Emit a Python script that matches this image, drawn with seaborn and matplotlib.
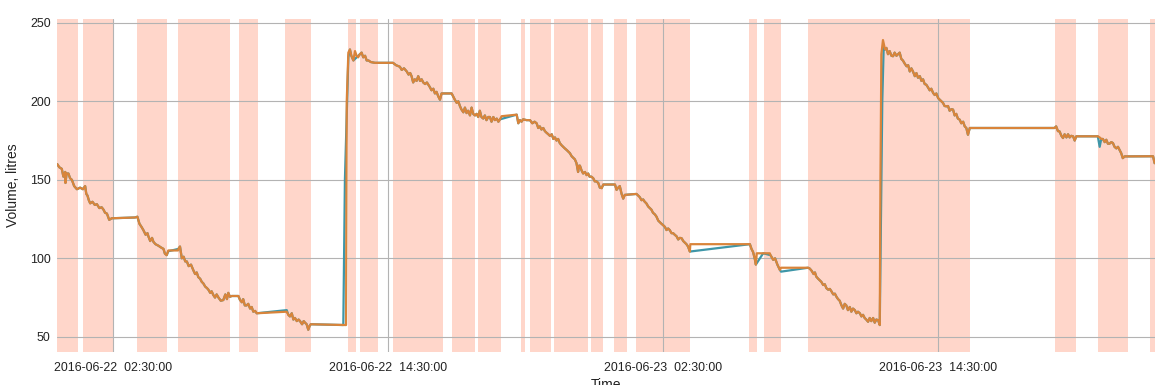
import pandas as pd
import seaborn as sns
import matplotlib.pyplot as plt
import matplotlib.dates as mdates

# hours since 2016-06-22 00:00 and tank volume (litres)
hours = [0.06, 0.15, 0.26, 0.33, 0.41, 0.42, 0.47, 0.55, 0.62, 0.70, 0.80, 0.92, 1.06, 1.18, 1.28, 1.33, 1.38, 1.44, 1.50, 1.60, 1.70, 1.79, 1.90, 2.00, 2.08, 2.15, 2.23, 2.33, 2.44,
         3.46, 3.56, 3.65, 3.74, 3.82, 3.92, 4.00, 4.04, 4.12, 4.20, 4.26, 4.35, 4.48, 4.58, 4.70, 4.76, 4.84,
         5.35, 5.42, 5.50, 5.58, 5.65, 5.72, 5.80, 5.90, 6.00, 6.08, 6.15, 6.22, 6.30, 6.37, 6.44, 6.52, 6.60, 6.66, 6.74, 6.80, 6.88, 6.95, 7.02, 7.10, 7.20, 7.31, 7.40, 7.47, 7.53, 7.60, 7.68,
         7.97, 8.04, 8.12, 8.18, 8.25, 8.33, 8.40, 8.48, 8.55, 8.62, 8.70, 8.77,
         10.15, 10.22, 10.30, 10.37, 10.44, 10.52, 10.60, 10.66, 10.75, 10.82, 10.88, 10.95, 11.02, 11.08, 11.13,
         12.84, 12.90, 12.99, 13.35, 13.42, 13.50, 13.57, 13.65, 13.75, 13.93, 14.72, 14.85,
         15.02, 15.10, 15.20, 15.32, 15.40, 15.47, 15.53, 15.60, 15.67, 15.75, 15.82, 15.90, 15.97, 16.04, 16.12, 16.20, 16.33, 16.40, 16.48, 16.55, 16.62, 16.70, 16.77, 16.84,
         17.28, 17.35, 17.42, 17.50, 17.57, 17.64, 17.70, 17.79, 17.86, 17.93, 18.00, 18.08, 18.15, 18.22, 18.30, 18.37, 18.44, 18.51, 18.58, 18.66, 18.73, 18.80, 18.88, 18.95, 19.02, 19.10, 19.17, 19.25, 19.32, 19.39,
         20.12, 20.19, 20.26, 20.33, 20.40, 20.55, 20.70, 20.80, 20.90, 20.99, 21.06, 21.13, 21.20, 21.28, 21.35, 21.42, 21.50, 21.57, 21.65, 21.72, 21.79, 21.86, 21.93,
         22.00, 22.08, 22.15, 22.22, 22.30, 22.37, 22.44, 22.52, 22.59, 22.66, 22.73, 22.80, 22.84, 22.88, 22.95, 23.02, 23.10, 23.17, 23.24, 23.30, 23.38, 23.46, 23.53, 23.60, 23.68, 23.75, 23.83, 23.90,
         24.41, 24.48, 24.55, 24.62, 24.70, 24.77, 24.84, 25.35, 25.42, 25.49, 25.57, 25.64, 25.71, 25.78, 25.86, 25.93, 26.00, 26.07, 26.15, 26.22, 26.30, 26.37, 26.44, 26.52, 26.59, 26.66, 26.73, 26.80, 26.88, 26.95, 27.02, 27.10, 27.17, 27.24, 27.32, 27.39, 27.46, 27.53, 27.60, 27.68,
         30.30, 30.37, 30.44, 30.51, 30.56, 31.20, 31.32, 31.40, 31.50, 31.61,
         32.84, 32.91, 33.00, 33.08, 33.14, 33.20, 33.28, 33.35, 33.42, 33.50, 33.57, 33.64, 33.72, 33.79, 33.86, 33.94, 34.01, 34.08, 34.15, 34.22, 34.30, 34.37, 34.44, 34.51, 34.58, 34.66, 34.73, 34.80, 34.88, 34.95, 35.02, 35.10, 35.17, 35.24, 35.31, 35.38, 35.46, 35.53, 35.60, 35.68, 35.75, 35.82, 35.90, 35.97,
         36.20, 36.26, 36.33, 36.40, 36.48, 36.55, 36.62, 36.70, 36.77, 36.84, 36.91, 36.98, 37.06, 37.14, 37.21, 37.28, 37.35, 37.42, 37.50, 37.57, 37.64, 37.72, 37.79, 37.86, 37.93, 38.00, 38.07, 38.15, 38.22, 38.30, 38.37, 38.44, 38.52, 38.59, 38.66, 38.73, 38.80, 38.88, 38.95, 39.02, 39.10, 39.17, 39.24, 39.31, 39.38, 39.46, 39.53, 39.61, 39.68, 39.75, 39.82, 39.90,
         43.60, 43.67, 43.75, 43.82, 43.90, 43.97, 44.04, 44.12, 44.19, 44.26, 44.33, 44.41, 44.48, 44.55, 45.49,
         45.64, 45.71, 45.79, 45.86, 45.93, 46.00, 46.08, 46.15, 46.22, 46.30, 46.37, 46.44, 46.51, 46.58, 46.66, 47.90, 47.97]
volume = [160, 158, 157, 152, 155, 148, 154, 154, 151, 150, 146, 144, 145, 144, 146, 141, 140, 137, 135, 136, 134, 134.5, 132, 132.5, 131, 129, 128.5, 124.5, 125.5,
          126, 126.5, 122, 120, 118, 115, 116, 114, 111, 113, 110.5, 109, 108, 107, 106, 103, 102,
          106, 107.5, 100, 101, 98, 98, 95, 96, 92.5, 90, 91, 88, 87, 85, 84, 82, 81, 80, 78, 79, 76.5, 75, 77, 75, 73, 73.4, 77, 74, 78, 75.5, 76,
          76, 73.5, 72, 74, 70, 70, 71, 68, 69, 66, 66.5, 65,
          64, 63, 65, 61, 62, 60, 61, 60, 58, 60, 59, 58, 54.5, 57, 58,
          233, 229, 226, 231, 228, 229, 226, 226, 225, 224.5, 224.5, 223,
          222, 220, 221, 219, 217, 218, 216, 212, 214, 213, 216, 213, 214, 212, 211, 212, 209, 207, 208, 205, 206, 203, 201, 205,
          205, 203, 201, 199, 200, 197, 195, 193, 196, 192.5, 194, 191, 196, 192, 191, 192, 190, 194, 190, 189, 191, 188, 190, 190, 187, 190, 188, 189, 187, 188.5,
          191.5, 186, 188, 187, 188.5, 188, 188, 186, 187, 186, 183, 184, 182, 183, 181, 180, 179, 178, 179, 176, 177, 175, 176,
          173.4, 172, 171, 170, 169, 168, 167, 165, 164, 163, 160.6, 155, 159, 159, 156, 154, 155, 153, 154, 152, 152, 151, 149, 149, 148, 145, 144.7, 147,
          147, 143.6, 145, 146, 141, 138, 140.4, 141, 140, 139, 137, 137.5, 136, 135, 133, 132, 131, 129, 128, 126.6, 124, 123, 122, 121, 120, 118, 119, 118, 116, 116, 115, 114, 112, 113, 112.8, 111, 110, 109, 107.5, 104.3,
          109, 106, 104, 100, 96, 102, 99, 100, 96, 92.6,
          94, 93.5, 92, 90, 91, 88.3, 87, 86, 85, 83, 83.5, 81, 80, 80.5, 79, 77, 77.5, 75.5, 74, 73, 70, 68, 71, 70, 67, 69, 66, 68, 67, 65, 66, 65, 63, 64, 62, 61, 59.6, 62, 60, 62, 59, 61, 60.6, 57.5,
          233, 234, 230, 232, 229, 228.7, 231, 229, 230, 231, 227, 226, 224, 222.3, 223, 219, 221, 219, 216, 218, 215, 216, 213, 214, 211, 210.6, 209, 207, 208, 205.3, 204, 205, 202, 201, 200, 199, 197, 196.8, 197, 194, 195, 194.7, 191, 192, 189, 188.3, 186, 187, 184, 183, 178.7, 183,
          183, 184, 181, 180.8, 178, 176.6, 179, 177, 179, 177, 178, 177.7, 175, 177.7, 177.7,
          176, 176, 174, 175.5, 173, 173, 174, 173.4, 171, 170, 171, 169, 167, 163.8, 164.9, 165, 160.6]

# points inside the gaps, different for the two filling methods
teal_hours = [4.91, 10.08, 12.55, 12.62, 12.77, 30.88, 31.66, 36.08, 36.14, 45.57]
teal_volume = [104.5, 67, 57.5, 150, 228, 103.2, 91.5, 200, 234, 171]
orange_hours = [4.91, 5.33, 10.08, 12.67, 12.70, 12.77, 13.06, 13.13, 13.20, 13.27, 19.46, 27.70, 30.60, 31.17, 31.66, 36.00, 36.04, 36.11, 45.57]
orange_volume = [105, 105, 66, 57.5, 200, 231, 232, 229, 228, 230, 190.5, 109, 103.2, 103.2, 94, 150, 230, 239, 177]

# shaded periods (hours)
span_start = [0.06, 1.19, 3.55, 5.34, 8.00, 10.00, 12.75, 13.28, 14.72, 17.29, 18.43, 20.30, 20.70, 21.74, 23.36, 24.36, 25.32, 30.25, 30.90, 32.83, 43.60, 45.48, 47.75]
span_end = [0.97, 2.50, 4.86, 7.61, 8.83, 11.14, 13.10, 14.06, 16.90, 18.30, 19.43, 20.48, 21.61, 23.23, 23.88, 24.93, 27.68, 30.60, 31.65, 39.90, 44.52, 46.79, 47.97]

tick_hours = [2.5, 14.5, 26.5, 38.5]

assert len(hours) == len(volume)

start = pd.Timestamp("2016-06-22 00:00:00")


def to_time(h):
    return start + pd.to_timedelta(h, unit="h")


teal = pd.DataFrame({"Time": to_time(pd.Series(hours + teal_hours)),
                     "Volume": volume + teal_volume, "method": "linear"})
orange = pd.DataFrame({"Time": to_time(pd.Series(hours + orange_hours)),
                       "Volume": volume + orange_volume, "method": "fill"})
df = pd.concat([teal, orange], ignore_index=True)

sns.set_theme(style="white")
plt.rcParams['font.family'] = ['Liberation Sans', 'DejaVu Sans']

fig, ax = plt.subplots(figsize=(11.63, 3.85), dpi=100)
fig.subplots_adjust(left=0.049, right=0.993, top=0.951, bottom=0.086)

for s, e in zip(span_start, span_end):
    ax.axvspan(to_time(s), to_time(e), color="#FFD6CA", lw=0, zorder=0)

sns.lineplot(data=df, x="Time", y="Volume", hue="method", hue_order=["linear", "fill"],
             palette={"linear": "#3E96A8", "fill": "#D9843A"},
             estimator=None, sort=True, lw=1.6, legend=False, ax=ax)

ax.set_xlim(to_time(0.05), to_time(47.98))
ax.set_ylim(40.4, 252.5)
ax.set_yticks([50, 100, 150, 200, 250])
ax.set_xticks([to_time(h) for h in tick_hours])
ax.xaxis.set_major_formatter(mdates.DateFormatter("%Y-%m-%d  %H:%M:%S"))

ax.grid(True, color="#B3B3B3", lw=0.8)
ax.set_axisbelow(True)
for sp in ax.spines.values():
    sp.set_visible(False)
ax.tick_params(axis="both", length=3, width=0.8, color="#B3B3B3", labelcolor="#222222", labelsize=8.9)
ax.tick_params(axis="x", pad=4)
ax.tick_params(axis="y", pad=1.5)

ax.set_xlabel("Time", fontsize=10, color="#222222", labelpad=3)
ax.set_ylabel("Volume, litres", fontsize=10, color="#222222", labelpad=7)

fig.savefig("out.png", dpi=100)
